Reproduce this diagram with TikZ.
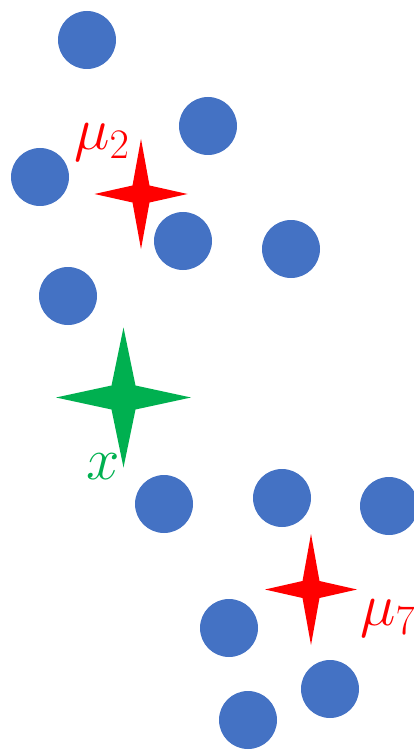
\documentclass[tikz,border=0pt]{standalone}
\usepackage{fix-cm}
\definecolor{dotblue}{HTML}{4472C4}
\definecolor{starred}{HTML}{FF0000}
\definecolor{stargreen}{HTML}{00B050}
\tikzset{
  dot/.style={circle, fill=dotblue, draw=none, minimum size=58pt, inner sep=0pt},
  lbl/.style={anchor=base west, inner sep=0pt, font=\fontsize{60}{70}\selectfont},
}
\newcommand\fourstar[6]{% x y halfwidth halfheight inner color
  \fill[#6] (#1,#2-#4) -- (#1+#5,#2-#5) -- (#1+#3,#2) -- (#1+#5,#2+#5) -- (#1,#2+#4)
    -- (#1-#5,#2+#5) -- (#1-#3,#2) -- (#1-#5,#2-#5) -- cycle;}
\begin{document}
\begin{tikzpicture}[x=1pt,y=-1pt]
\useasboundingbox (0,0) rectangle (414,751);
\node[dot] (c1) at (87,40) {};
\node[dot] (c2) at (208,126) {};
\node[dot] (c3) at (40,177) {};
\node[dot] (c4) at (183,241) {};
\node[dot] (c5) at (291,249) {};
\node[dot] (c6) at (68,296) {};
\node[dot] (c7) at (164,504) {};
\node[dot] (c8) at (282,498) {};
\node[dot] (c9) at (389,506) {};
\node[dot] (c10) at (229,628) {};
\node[dot] (c11) at (330,689) {};
\node[dot] (c12) at (248,720) {};
\fourstar{141}{194}{46.5}{55}{8.5}{starred}
\fourstar{123.5}{397.5}{67.5}{70}{12}{stargreen}
\fourstar{311}{589.5}{46}{55.5}{8.5}{starred}
\node[lbl, text=starred] (mu2) at (74,150) {$\mu_2$};
\node[lbl, text=stargreen] (xl) at (86,479) {$x$};
\node[lbl, text=starred] (mu7) at (360,625) {$\mu_7$};
\end{tikzpicture}
\end{document}
